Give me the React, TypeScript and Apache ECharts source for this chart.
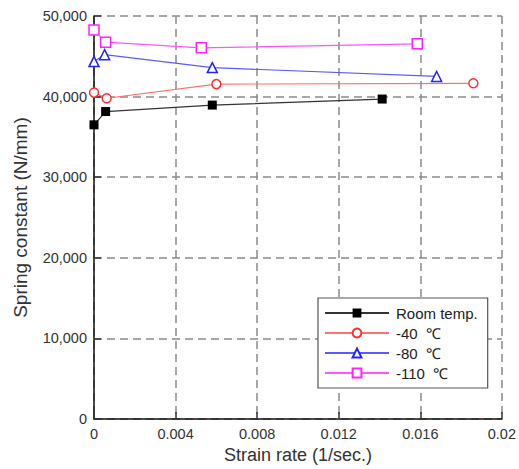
import React, { useEffect, useRef } from "react";
import * as echarts from "echarts";

const seriesNames = ["Room temp.", "-40  ℃", "-80  ℃", "-110  ℃"];
const roomTemp: [number, number][] = [[0, 36500], [0.00057, 38150], [0.0058, 38950], [0.01413, 39700]];
const minus40: [number, number][] = [[0, 40500], [0.00062, 39800], [0.006, 41550], [0.0186, 41650]];
const minus80: [number, number][] = [[0, 44350], [0.00052, 45200], [0.0058, 43600], [0.0168, 42500]];
const minus110: [number, number][] = [[0, 48250], [0.00057, 46750], [0.00526, 46050], [0.01585, 46550]];
const yTicks = [0, 10000, 20000, 30000, 40000, 50000];

const FONT = "Liberation Sans, Arial, sans-serif";

export default function App() {
  const ref = useRef<HTMLDivElement>(null);
  useEffect(() => {
    if (!ref.current) return;
    const chart = echarts.init(ref.current, undefined, { renderer: "svg" });
    const grid = { type: [8, 5] as any, color: "#8a8a8a", width: 1.5 };
    const mk = (
      name: string,
      data: [number, number][],
      lineColor: string,
      markColor: string,
      symbol: string,
      size: number,
      filled: boolean
    ) => ({
      name,
      type: "line",
      data,
      symbol,
      symbolSize: size,
      showAllSymbol: true,
      lineStyle: { color: lineColor, width: 1.2 },
      itemStyle: {
        color: filled ? markColor : "#ffffff",
        borderColor: markColor,
        borderWidth: filled ? 0 : 1.5,
      },
      z: 3,
    });
    chart.setOption({
      animation: false,
      textStyle: { fontFamily: FONT },
      grid: { left: 94, right: 16, top: 16, bottom: 46 },
      legend: {
        orient: "vertical",
        left: 318,
        top: 298,
        width: 170,
        padding: [7, 10, 7, 6],
        itemGap: 4,
        itemWidth: 64,
        itemHeight: 11,
        borderColor: "#555",
        borderWidth: 1.2,
        backgroundColor: "#fff",
        textStyle: { fontFamily: FONT, fontSize: 15, lineHeight: 16, color: "#222", padding: [0, 0, 0, 2] },
        data: seriesNames,
      },
      xAxis: {
        type: "value",
        min: 0,
        max: 0.02,
        interval: 0.004,
        name: "Strain rate (1/sec.)",
        nameLocation: "middle",
        nameGap: 25,
        nameTextStyle: { fontFamily: FONT, fontSize: 18, color: "#333" },
        axisLine: { show: true, lineStyle: { color: "#111", width: 1.5 } },
        axisTick: { show: true, inside: true, length: 7, lineStyle: { color: "#333", width: 1.5 } },
        axisLabel: {
          fontFamily: FONT,
          fontSize: 14.5,
          color: "#333",
          margin: 7,
          formatter: (v: number) => String(+v.toFixed(3)),
        },
        splitLine: { show: true, lineStyle: grid },
      },
      yAxis: {
        type: "value",
        min: 0,
        max: 50000,
        interval: 10000,
        name: "Spring constant (N/mm)",
        nameLocation: "middle",
        nameGap: 64,
        nameTextStyle: { fontFamily: FONT, fontSize: 19, color: "#333" },
        axisLine: { show: true, lineStyle: { color: "#111", width: 1.5 } },
        axisTick: { show: true, inside: true, length: 7, lineStyle: { color: "#333", width: 1.5 } },
        axisLabel: {
          fontFamily: FONT,
          fontSize: 14.5,
          color: "#333",
          margin: 7,
          formatter: (v: number) => (yTicks.includes(v) ? v.toLocaleString("en-US") : ""),
        },
        splitLine: { show: true, lineStyle: grid },
      },
      series: [
        mk(seriesNames[0], roomTemp, "#333333", "#000000", "rect", 9, true),
        mk(seriesNames[1], minus40, "#ff7070", "#ff3030", "circle", 9, false),
        mk(seriesNames[2], minus80, "#5a5aff", "#2222ff", "triangle", 10, false),
        mk(seriesNames[3], minus110, "#ff55ff", "#ff22ff", "rect", 10, false),
      ],
    });
    return () => chart.dispose();
  }, []);
  return <div ref={ref} style={{ position: "absolute", left: 0, top: 0, width: 519, height: 469 }} />;
}
